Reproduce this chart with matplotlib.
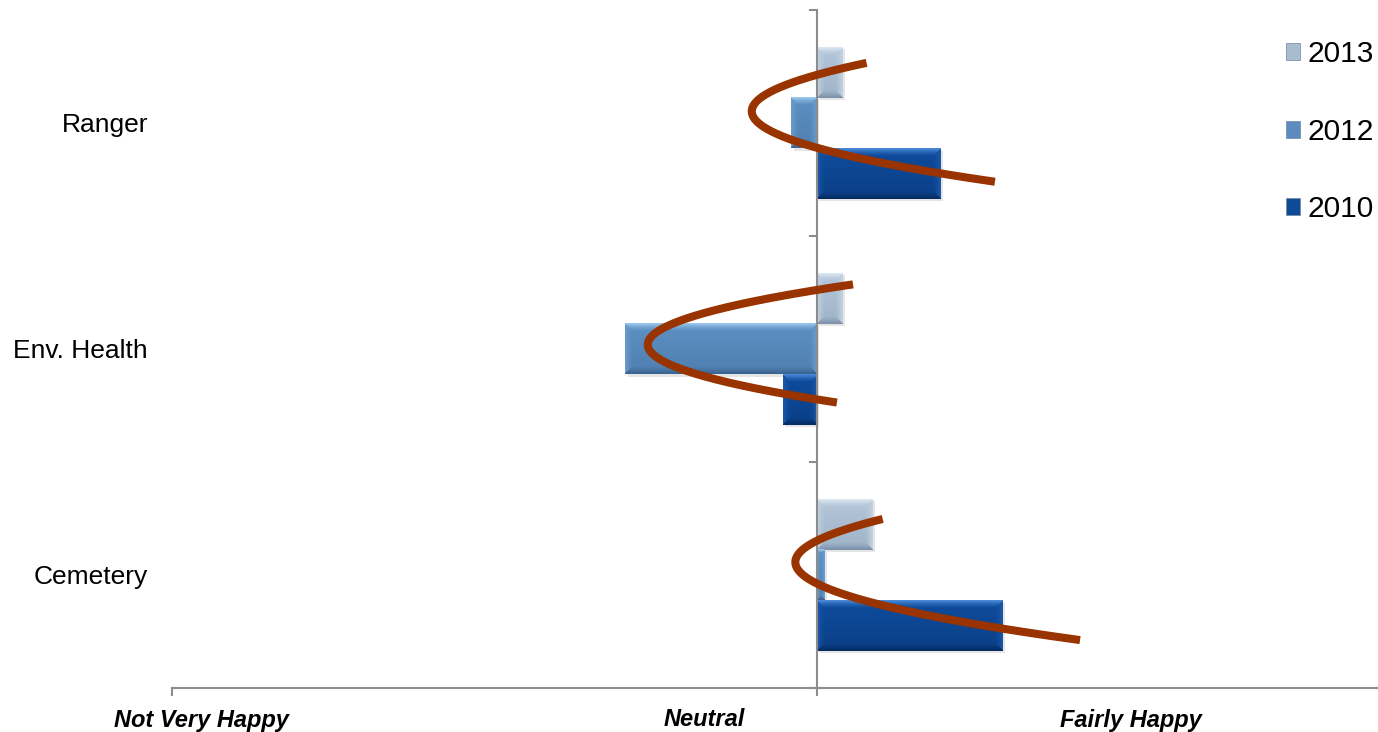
import matplotlib.pyplot as plt
import numpy as np
from matplotlib.colors import to_rgb
from matplotlib.patches import Patch
from matplotlib.transforms import blended_transform_factory

plt.rcParams['font.family'] = ['Liberation Sans', 'DejaVu Sans']

# categories from bottom to top
categories = ["Cemetery", "Env. Health", "Ranger"]
years = ["2013", "2012", "2010"]
vals_2013 = [0.086, 0.039, 0.039]
vals_2012 = [0.012, -0.297, -0.040]
vals_2010 = [0.288, -0.053, 0.191]

# trend curve (three points per category: top end, turning point, bottom end)
curve_top_x = [0.102, 0.056, 0.077]
curve_top_dy = [0.248, 0.286, 0.266]
curve_mid_x = [-0.031, -0.262, -0.101]
curve_mid_dy = [0.031, 0.011, 0.055]
curve_end_x = [0.408, 0.031, 0.276]
curve_end_dy = [-0.288, -0.237, -0.260]

scale_labels = ["Not Very Happy", "Neutral", "Fairly Happy"]
scale_label_pos = [-0.955, -0.175, 0.487]

# bevel colours: body top, body bottom, top edge, bottom edge, side edge
bevel = {
    "2013": ["#b5c7d9", "#9fb3c8", "#dce7f1", "#7c91a8", "#c2d2e2"],
    "2012": ["#5d90c3", "#4f7fb0", "#9ac8ee", "#3a648f", "#6c9ccb"],
    "2010": ["#0f4c9d", "#0a3f86", "#4a8ad8", "#052b60", "#1a58a8"],
}
legend_colors = {"2013": "#a9bccf", "2012": "#5b8cbd", "2010": "#0f4a96"}

PX_X = 1206 / 1.87   # pixels per x unit
PX_Y = 678 / 3.0     # pixels per category


def bevel_image(w_px, h_px, cols, edge=8):
    W = max(int(round(w_px)), 1)
    H = max(int(round(h_px)), 1)
    body_t, body_b, top_c, bot_c, side_c = [np.array(to_rgb(c)) for c in cols]
    t = np.linspace(0, 1, H).reshape(-1, 1, 1)
    img = body_t * (1 - t) + body_b * t
    img = np.broadcast_to(img, (H, W, 3)).copy()
    rr, cc = np.mgrid[0:H, 0:W]
    d_top, d_bot = rr, H - 1 - rr
    d_side = np.minimum(cc, W - 1 - cc)
    e = max(min(edge, H // 2, W // 2), 1)
    dmin = np.minimum(np.minimum(d_top, d_bot), d_side)
    k = np.clip(1 - dmin / e, 0, 1)[..., None] ** 1.5
    edge_col = np.where((d_top == dmin)[..., None], top_c,
                        np.where((d_bot == dmin)[..., None], bot_c, side_c))
    return img * (1 - k) + edge_col * k


fig = plt.figure(figsize=(13.78, 7.32), dpi=100)
ax = fig.add_axes([172 / 1378, 1 - 688 / 732, 1 - 172 / 1378, (688 - 10) / 732])

bar_h = 0.224
y = np.arange(len(categories))
series = [("2013", vals_2013, bar_h), ("2012", vals_2012, 0.0), ("2010", vals_2010, -bar_h)]

for year, vals, off in series:
    bars = ax.barh(y + off, vals, height=bar_h, color=legend_colors[year],
                   edgecolor="none", zorder=2)
    for b in bars:
        x0, y0 = b.get_x(), b.get_y()
        w, h = b.get_width(), b.get_height()
        xa, xb = min(x0, x0 + w), max(x0, x0 + w)
        # soft shadow
        ax.add_patch(plt.Rectangle((xa + 0.004, y0 - 0.01), xb - xa, h,
                                   color="#000000", alpha=0.10, lw=0, zorder=1.5))
        img = bevel_image((xb - xa) * PX_X, h * PX_Y, bevel[year])
        ax.imshow(img, origin="upper", aspect="auto", interpolation="bilinear",
                  extent=[xa, xb, y0, y0 + h], zorder=2.1)

# trend curves
for i in range(len(categories)):
    ys = np.array([curve_top_dy[i], curve_mid_dy[i], curve_end_dy[i]])
    xs = np.array([curve_top_x[i], curve_mid_x[i], curve_end_x[i]])
    coef = np.polyfit(ys, xs, 2)
    yy = np.linspace(ys.min(), ys.max(), 200)
    ax.plot(np.polyval(coef, yy), i + yy, color="#993300", lw=5.8,
            solid_capstyle="butt", zorder=4)

ax.set_xlim(-1, 0.87)
ax.set_ylim(-0.5, 2.5)

for s in ["top", "right"]:
    ax.spines[s].set_visible(False)
ax.spines["left"].set_position(("data", 0))
for s in ["left", "bottom"]:
    ax.spines[s].set_color("#8c8c8c")
    ax.spines[s].set_linewidth(1.5)
    ax.spines[s].set_zorder(3)

ax.set_xticks([-1, 0])
ax.set_xticklabels([])
ax.set_yticks([-0.5, 0.5, 1.5, 2.5])
ax.set_yticklabels([])
ax.tick_params(axis="both", direction="out", length=6, width=1.5, color="#8c8c8c")

# category labels
tr = blended_transform_factory(fig.transFigure, ax.transData)
for i, cat in enumerate(categories):
    ax.text(148 / 1378, i - 0.01, cat, transform=tr, ha="right", va="center",
            fontsize=19, color="#000000")

# scale labels under the axis
trx = blended_transform_factory(ax.transData, fig.transFigure)
for lab, pos in zip(scale_labels, scale_label_pos):
    ax.text(pos, 1 - 720 / 732, lab, transform=trx, ha="center", va="center",
            fontsize=17, fontweight="bold", fontstyle="italic", color="#000000")

handles = [Patch(facecolor=legend_colors[yr], edgecolor="#6f86a0", lw=0.5) for yr in years]
fig.legend(handles, years, loc="upper right", bbox_to_anchor=(1.006, 0.961),
           frameon=False, fontsize=21.5, handlelength=0.5, handleheight=0.5,
           handletextpad=0.25, labelspacing=1.65, borderaxespad=0.0)

fig.savefig("out.png", dpi=100)
